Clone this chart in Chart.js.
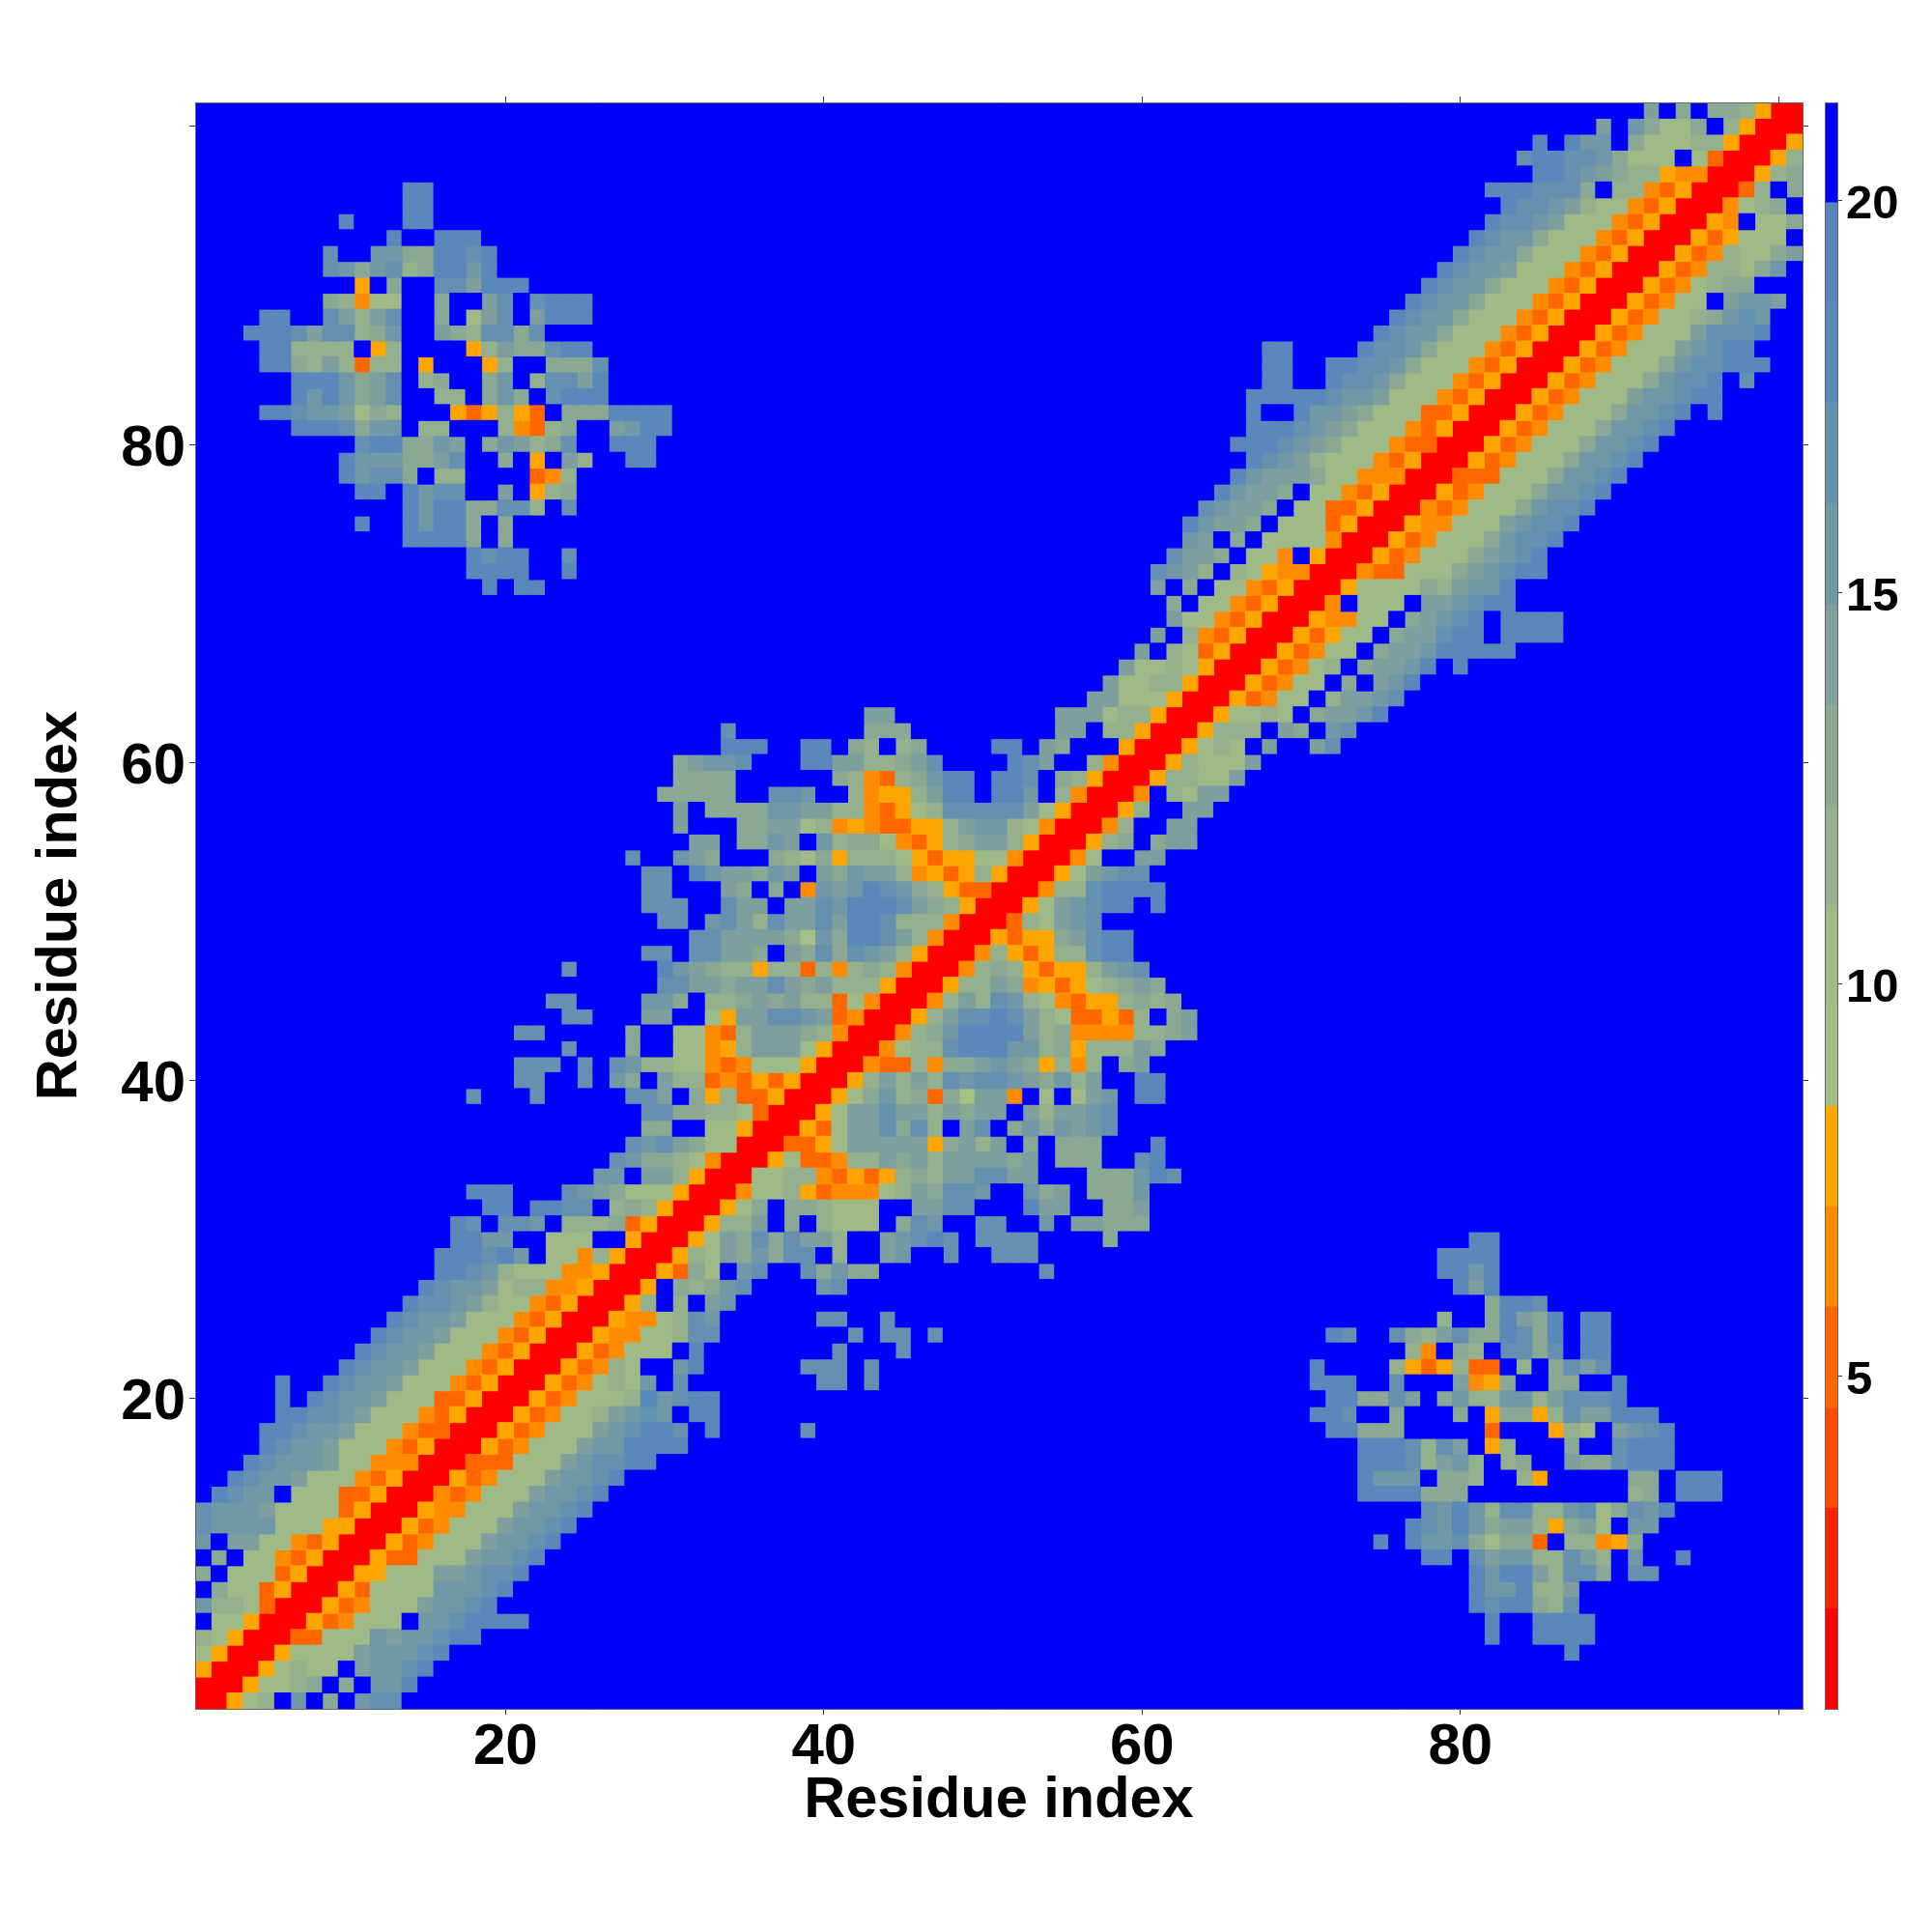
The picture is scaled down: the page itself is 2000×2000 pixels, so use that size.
<!DOCTYPE html>
<html>
<head>
<meta charset="utf-8">
<title>Residue contact map</title>
<script src="https://cdn.jsdelivr.net/npm/chart.js@4/dist/chart.umd.min.js"></script>
<style>
  html, body { margin: 0; padding: 0; background: #fff; }
  canvas { position: absolute; top: 0; }
  #map { left: 0; }
  #bar { left: 1888px; }
</style>
</head>
<body>
<canvas id="map" width="2000" height="2000"></canvas>
<canvas id="bar" width="112" height="2000"></canvas>
<script>
// colour level per cell, hex digit: 0 = closest (red) ... f = furthest (blue)
// one line per residue y (1..101), "startColumn:levels" runs, anything else is f
// the map is symmetric so only x <= y is kept
var contactRows = [
  "1:0", "1:00", "1:500", "1:7500", "1:87500", "1:f77500", "1:b887300", "1:f9773500", "1:9f7773500", "1:f9f7743500",
  "1:bfaa7743500", "1:cbbbb7775500", "1:cbbba77773500", "2:dcbbf77733500", "3:dcbba77743500", "4:dcbbba7744400",
  "5:dcbba77743500", "5:ddcbba77743300", "6:ddccba77743500", "6:dfdcbba77733500",
  "6:dffdcbba77743500", "10:dcbba77743500", "11:dcbba77743500", "12:dcbba77743500", "13:dcbba77743500",
  "14:dccba87743500", "15:dcbba78844500", "16:ddcb877744500", "16:dddcdbf7748500", "17:ddbbff777ff500",
  "17:dcfccbf88893500", "19:ddfddccf898500", "18:dddfffcba9777500", "26:bbfaa8500", "27:cb9987400",
  "28:cbca97700", "29:99ff77500", "29:cc99887300", "18:c 22:c 28:ccaf95833500", "21:cc 25:c 27:b9fa8834353500",
  "21:ccc 25:c 27:cb8877434777500", "24:c 28:9ff77458aaa7500", "21:cc 28:9ff77438aaa98400", "24:cc 29:aaff75aaccba3400",
  "23:cc 29:bb9f889a9a8837400", "30:ccaa9aaca9a888500", "24:c 30:dba988588384898400", "29:ccfccaa9fa9c9cba8500",
  "32:ccaaaa96b9ddca8400", "30:ccfbca8caacaddc888400",
  "29:cccffcaafaacbdddca98500", "29:ccfffa9f9f4babdcb9853300", "29:ccfdbaa9bafa9baa845358500",
  "28:cffba9fff987958887535577400", "32:aaf99bafb899743589aa8500", "31:afff99aa7845433558abb87400",
  "31:af9999bbaa8843578ccccca7500", "30:99999ffccbff84558addfddbf8400", "31:9999 41:984389bddfddcf98500",
  "31:9abbc 39:ddaa889ac 52:dcaff8400",
  "34:ddd 39:ddf98f89 51:ddfa9fff500", "34:c 43:999 55:aaf88500", "43:aa 55:aaa788500", "57:aa777500", "58:a7788500",
  "59:a7787500", "60:af873500", "61:af843500", "62:a7743500", "62:9f7743500",
  "19:d 21:dd 61:af9f7743500", "18:dddd 24:d 61:cba8f8754400", "18:dcdd 24:c 62:caa9f774f500",
  "14:dddd9f9 63:baf9f7777400", "11:d 14:dbdd9f9 63:dbaa9f7773500", "14:dbdd99cc8fc 64:cbaa9f7733500",
  "11:ddfdbccffaf589 65:dbaa9f7743500", "10:dbcc9f88ffff348 66:dbaaa97744400",
  "10:dbbb99acff9f5fa8ffdd 67:dcba877743500", "11:cdd99baf9ba89cffddd 66:dddcba977743300",
  "7:dddc9bbf88fff84389ffabdd 67:dddcba977743500", "5:ddcbba798fff535853f999dddd 67:dffdbba977733500",
  "7:dbdb9acff88f9b9fcddd 67:dddddcbba77743500", "7:dddb9acf89ff9bf8ccad 68:ddffdccb977743500",
  "5:dd98a8388f5fff58ff999c 68:ddffddccb977743500", "5:dd8888f58ffff58a99cdd 68:dd 74:dccb977743500",
  "4:dddcacc89bffa98cc9c 75:dcbb977743500", "5:dd 9:ca8acff9f7acfaddd 76:dcbb977743500",
  "9:98477ff9ffacfcddd 77:dcbb977743500", "11:5f9ffccaddd 78:dcbb977743500",
  "9:cb9bc89ddbd 79:dcbba77743500", "9:cffbb99ddcd 80:dcbb977743500", "13:dffddd 81:dcbb977743500",
  "10:d 14:dd 82:dccba77743500", "14:dd 83:dccba87743500", "14:dd 82:dddccc9f88 92:43500",
  "85:ddcba98854400", "84:cddccb9777f7300", "85:dfdbbf977788500", "89:afb9779f8500", "92:af9f998500"
];
var levelColors = ['#FF0000', '#FF2400', '#FF4A00', '#FF6600', '#FF8C00', '#FFA500',
                   '#A6BF84', '#A0BA87', '#94B08D', '#8AA894', '#7E9F9D', '#7098A6',
                   '#6590AF', '#5A88BA', '#5A86BC', '#0000FF'];
var axisTicks = [20, 40, 60, 80, 100];
var axisLabels = ['20', '40', '60', '80', ''];
var axisTitle = 'Residue index';
var barTicks = [5, 10, 15, 20];
var barEdges = [0.75, 2.03, 3.31, 4.59, 5.88, 7.16, 8.44, 9.72, 11.0, 12.28, 13.56, 14.84, 16.13, 17.41, 18.69, 19.97, 21.25];

var N = contactRows.length;
var edgeColor = '#666';
var tickColor = '#333';

// expand the rows to a full matrix
var levels = [];
for (var y = 0; y < N; y++) {
  levels.push(new Array(N).fill(15));
}
contactRows.forEach(function (row, y) {
  row.split(' ').forEach(function (run) {
    var parts = run.split(':');
    var col = parseInt(parts[0]) - 1;
    for (var i = 0; i < parts[1].length; i++) {
      var v = parseInt(parts[1][i], 16);
      levels[y][col + i] = v;
      levels[col + i][y] = v;
    }
  });
});

// one scatter dataset per colour level, blue first as it is the background
var points = levelColors.map(function () { return []; });
for (var yy = 0; yy < N; yy++) {
  for (var xx = 0; xx < N; xx++) {
    points[levels[yy][xx]].push({ x: xx + 1, y: yy + 1 });
  }
}

// half a pixel over the cell edge so the antialiasing leaves no seams
function cellRadius(ctx) {
  var s = ctx.chart.scales.x;
  var half = Math.abs(s.getPixelForValue(2) - s.getPixelForValue(1)) / 2;
  return (half + 0.5) * Math.SQRT2;
}

var datasets = [];
for (var l = 15; l >= 0; l--) {
  datasets.push({
    data: points[l],
    pointStyle: 'rect',
    pointRadius: cellRadius,
    pointBorderWidth: 0,
    pointBackgroundColor: levelColors[l],
    clip: 0
  });
}

function setTicks(scale) {
  scale.ticks = axisTicks.map(function (v) { return { value: v }; });
}
function tickLabel(value) {
  return axisLabels[axisTicks.indexOf(value)];
}
function fixedSize(size) {
  return function (scale) {
    if (scale.isHorizontal()) scale.height = size; else scale.width = size;
  };
}

var numberFont = { family: 'Liberation Sans', size: 60, weight: 'bold' };
var titleFont = { family: 'Liberation Sans', size: 59.5, weight: 'bold' };

function mapAxis(position, size, showLabels, title, padding, labelOffset) {
  var o = {
    type: 'linear',
    position: position,
    min: 0.5,
    max: 101.5,
    afterBuildTicks: setTicks,
    afterFit: fixedSize(size),
    border: { color: edgeColor, width: 1, z: 1 },
    grid: { drawOnChartArea: false, drawTicks: true, tickLength: 6, color: tickColor, lineWidth: 1 },
    ticks: {
      display: showLabels,
      autoSkip: false,
      maxRotation: 0,
      padding: padding,
      labelOffset: labelOffset,
      color: '#000',
      font: numberFont,
      callback: tickLabel
    }
  };
  if (title) o.title = title;
  return o;
}

new Chart(document.getElementById('map'), {
  type: 'scatter',
  data: { datasets: datasets },
  options: {
    responsive: false,
    devicePixelRatio: 1,
    animation: false,
    events: [],
    layout: { padding: 0 },
    plugins: { legend: { display: false }, tooltip: { enabled: false } },
    scales: {
      x: mapAxis('bottom', 231, true, {
        display: true, text: axisTitle, color: '#000', font: titleFont, padding: { top: 0, bottom: 100 }
      }, -2, 0),
      y: mapAxis('left', 202, true, {
        display: true, text: axisTitle, color: '#000', font: titleFont, padding: { top: 27, bottom: 0 }
      }, 4, 5),
      xTop: mapAxis('top', 106, false, null, 4, 0),
      yRight: mapAxis('right', 134, false, null, 4, 0)
    }
  }
});

// colour bar: one floating bar per level
var barSets = levelColors.map(function (c, i) {
  return { data: [[barEdges[i], barEdges[i + 1]]], backgroundColor: c, barPercentage: 1, categoryPercentage: 1, grouped: false };
});

function barEdgeAxis(position, size) {
  return {
    position: position,
    afterFit: fixedSize(size),
    border: { color: edgeColor, width: 1, z: 1 },
    grid: { display: false },
    ticks: { display: false }
  };
}

new Chart(document.getElementById('bar'), {
  type: 'bar',
  data: { labels: ['level'], datasets: barSets },
  options: {
    responsive: false,
    devicePixelRatio: 1,
    animation: false,
    events: [],
    layout: { padding: 0 },
    plugins: { legend: { display: false }, tooltip: { enabled: false } },
    scales: {
      x: Object.assign(barEdgeAxis('bottom', 231), { type: 'category', stacked: false }),
      xTop: Object.assign(barEdgeAxis('top', 106), { type: 'linear' }),
      yLeft: Object.assign(barEdgeAxis('left', 1), { type: 'linear', min: 0.75, max: 21.25 }),
      y: {
        type: 'linear',
        position: 'right',
        min: 0.75,
        max: 21.25,
        afterBuildTicks: function (scale) {
          scale.ticks = barTicks.map(function (v) { return { value: v }; });
        },
        afterFit: fixedSize(98),
        border: { color: edgeColor, width: 1, z: 1 },
        grid: { drawOnChartArea: false, drawTicks: true, tickLength: 5, color: tickColor, lineWidth: 1 },
        ticks: {
          autoSkip: false,
          padding: 4,
          labelOffset: 5,
          color: '#000',
          font: { family: 'Liberation Sans', size: 49, weight: 'bold' }
        }
      }
    }
  }
});
</script>
</body>
</html>
